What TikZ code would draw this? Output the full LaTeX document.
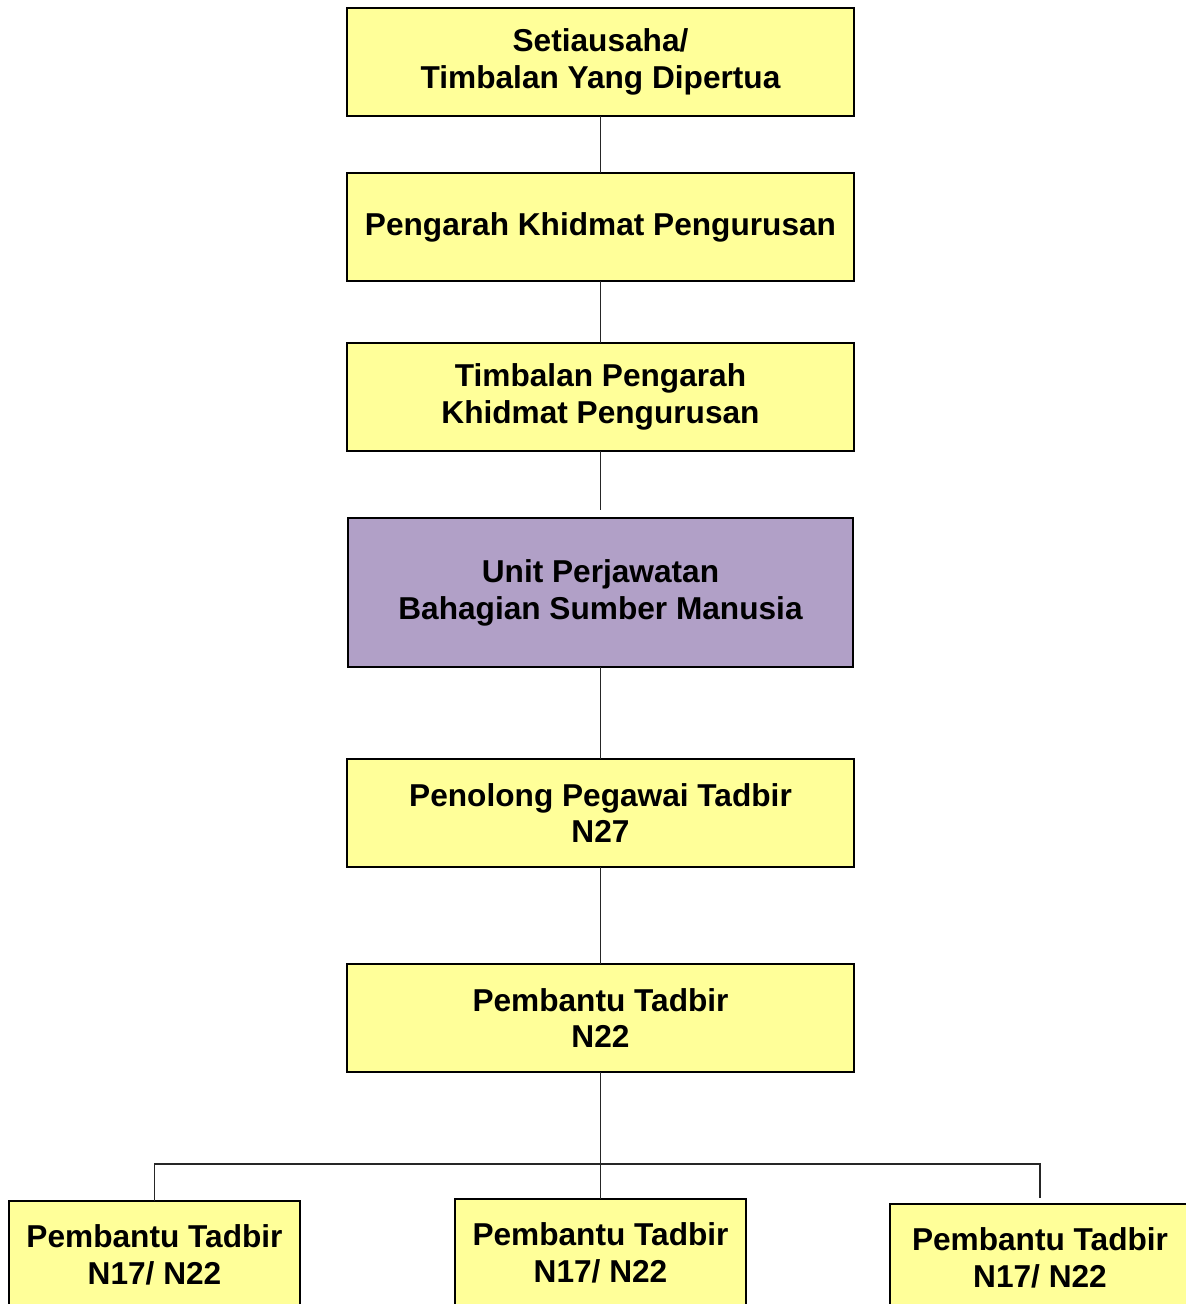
\documentclass[tikz,border=0pt]{standalone}
\usepackage{fontspec}
\setmainfont{Liberation Sans}
\usetikzlibrary{positioning}
\definecolor{kuning}{RGB}{255,255,153}
\definecolor{ungu}{RGB}{177,160,199}
\tikzstyle{block} = [rectangle, draw, fill=kuning, line width=1.1pt, outer sep=0pt,
text centered, align=center, minimum width=10.14cm, minimum height=2.16cm,
font=\bfseries\fontsize{18}{21}\selectfont]
\tikzstyle{small} = [block, minimum width=5.82cm]
\tikzstyle{line} = [draw, line width=1pt, black!85]

\begin{document}
\begin{tikzpicture}
	\useasboundingbox (0,0) rectangle (23.72,-26.08);
	% Place nodes
	\node [block] (setiausaha) at (12.01,-1.24) {Setiausaha/\\Timbalan Yang Dipertua};
	\node [block, below=1.14cm of setiausaha] (pengarah) {Pengarah Khidmat Pengurusan};
	\node [block, below=1.24cm of pengarah] (timbalan) {Timbalan Pengarah\\Khidmat Pengurusan};
	\node [block, fill=ungu, minimum width=10.1cm, minimum height=2.98cm,
		below=1.34cm of timbalan] (unit) {Unit Perjawatan\\Bahagian Sumber Manusia};
	\node [block, below=1.84cm of unit] (ppt) {Penolong Pegawai Tadbir\\N27};
	\node [block, below=1.94cm of ppt] (pt) {Pembantu Tadbir\\N22};
	\path [line] (setiausaha) -- (pengarah);
	\path [line] (pengarah) -- (timbalan);
	\path [line, shorten >=0.16cm] (timbalan) -- (unit);
	\path [line] (unit) -- (ppt);
	\path [line] (ppt) -- (pt);

	% Place nodes
	\node [small, below=2.54cm of pt] (ptmid) {Pembantu Tadbir\\N17/ N22};
	\node [small, left=3.1cm of ptmid, yshift=-0.04cm] (ptleft) {Pembantu Tadbir\\N17/ N22};
	\node [small, minimum width=6cm, right=2.88cm of ptmid, yshift=-0.1cm] (ptright) {Pembantu Tadbir\\N17/ N22};
	\coordinate [below=1.84cm of pt.south] (bus);
	\path [line] (pt) -- (ptmid);
	\path [line] (ptleft.north) |- (bus);
	\path [line, shorten <=0.12cm] (ptright.north) |- (bus);
\end{tikzpicture}
\end{document}
